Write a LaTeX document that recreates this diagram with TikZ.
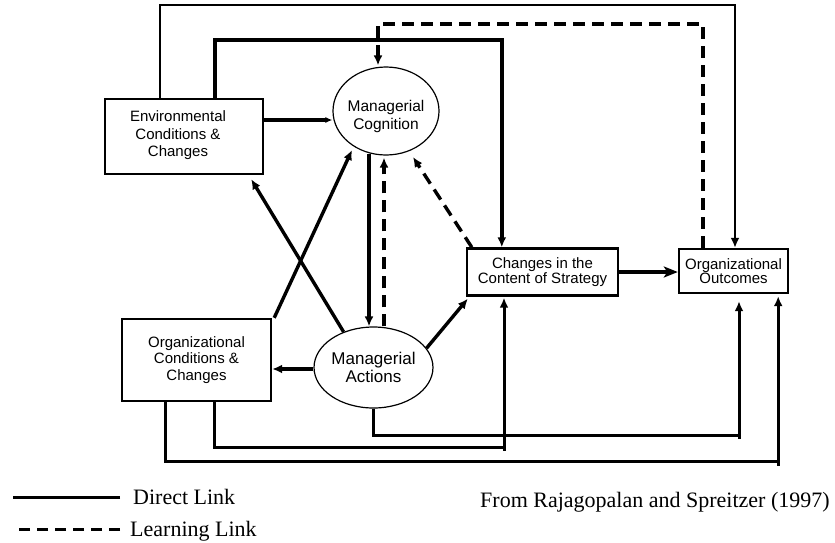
\documentclass[tikz,border=0pt]{standalone}
\usepackage{fontspec}
\setmainfont{Liberation Sans}
\newfontfamily\legfont{Liberation Serif}
\usetikzlibrary{arrows.meta,shapes.geometric}
\begin{document}
\begin{tikzpicture}[x=1pt,y=-1pt,
  box/.style={draw,line width=2.4pt,inner sep=0pt,align=center},
  oval/.style={draw,ellipse,line width=1.2pt,inner sep=0pt,align=center},
  txt/.style={inner sep=0pt,align=center,font=\fontsize{15}{17.5}\selectfont},
  link/.style={line width=3.4pt},
  thinlink/.style={line width=2.6pt},
  botlink/.style={line width=3pt},
  learn/.style={line width=3.4pt,dash pattern=on 12pt off 7pt},
  tip/.style={-{Latex[length=10pt,width=9pt]}},
  smalltip/.style={-{Latex[length=7pt,width=6pt]}},
  bigtip/.style={-{Stealth[length=14pt,width=11pt,inset=3.5pt]}},
  legtext/.style={inner sep=0pt,font=\legfont\fontsize{22}{24}\selectfont},
]
\useasboundingbox (0,0) rectangle (835,542);

% nodes
\node[box,minimum width=158pt,minimum height=75pt] (env) at (184,136.5) {};
\node[txt] (envtext) at (178,135.5) {Environmental\\Conditions \&\\Changes};

\node[oval,minimum width=106pt,minimum height=88pt] (cog) at (386,111) {};
\node[txt,font=\fontsize{15.5}{18}\selectfont] (cogtext) at (386,116) {Managerial\\Cognition};

\node[box,minimum width=151pt,minimum height=47pt,font=\fontsize{15}{14.5}\selectfont] (chg) at (542.5,272) {Changes in the\\Content of Strategy};

\node[box,minimum width=109pt,minimum height=44pt,font=\fontsize{15}{14.5}\selectfont] (out) at (733.5,271) {Organizational\\Outcomes};

\node[box,minimum width=149pt,minimum height=82pt,font=\fontsize{15}{16.5}\selectfont] (orgc) at (196.5,360) {Organizational\\Conditions \&\\Changes};

\node[oval,minimum width=95pt,minimum height=81pt,font=\fontsize{17}{18.5}\selectfont] (act) at (373.5,367.5) {Managerial\\Actions};

% top connectors
\draw[thinlink,tip] ([xshift=56pt]env.north west) -- ++(0,-93) -| ([xshift=1.5pt]out.north);
\draw[link,tip] ([xshift=111pt]env.north west) -- ++(0,-58) -| ([xshift=36pt]chg.north west);
\draw[learn,tip] ([xshift=25pt]out.north west) -- ++(0,-224) -| ([xshift=-8pt,yshift=1pt]cog.north);

% middle connectors
\draw[link,smalltip] ([yshift=16.5pt]env.east) -- ([yshift=16.5pt]env.east -| cog.west);
\draw[link,tip] ([xshift=-17pt,yshift=2pt]cog.south) -- ([xshift=-4.5pt]act.north);
\draw[learn,tip] ([xshift=10.5pt]act.north) -- ([xshift=-2pt,yshift=-2pt]cog.south);
\draw[learn,tip] ([xshift=6pt]chg.north west) -- ([xshift=27pt,yshift=-46pt]cog.center);
\draw[link,tip] (act.130) -- ([xshift=-13pt,yshift=-4pt]env.south east);
\draw[link,tip] ([xshift=2pt]orgc.north east) -- ([xshift=-34pt,yshift=-39pt]cog.center);
\draw[link,tip] ([yshift=-1.5pt]act.west) -- ([yshift=-1.5pt]act.west -| orgc.east);
\draw[link,tip] (act.20) -- ([xshift=2pt,yshift=-2pt]chg.south west);
\draw[link,bigtip] (chg.east) -- (chg.east -| out.west);

% bottom connectors
\draw[botlink,tip] (act.south) -- ++(0,26.5) coordinate (k1) -| ([xshift=5.5pt,yshift=-7pt]out.south);
\draw[botlink,tip] ([xshift=94pt]orgc.south west) -- ++(0,45) coordinate (k2) -| ([xshift=-38.5pt,yshift=-1pt]chg.south);
\draw[botlink,tip] ([xshift=45pt]orgc.south west) -- ++(0,59) coordinate (k3) -| ([xshift=-11pt,yshift=-2pt]out.south east);
\draw[botlink] ([xshift=5.5pt]out.south |- k1) -- ++(0,4);
\draw[botlink] ([xshift=-38.5pt]chg.south |- k2) -- ++(0,4);
\draw[botlink] ([xshift=-11pt]out.south east |- k3) -- ++(0,5);

% legend
\node[legtext,anchor=base west] (dl) at (133,504) {Direct Link};
\node[legtext,anchor=base west] (ll) at (130,536) {Learning Link};
\draw[thinlink] ([xshift=-13pt,yshift=-1pt]dl.west) -- ++(-107,0);
\draw[learn,dash pattern=on 11pt off 7pt] ([xshift=-10pt,yshift=1pt]ll.west) -- ++(-107,0);
\node[legtext,anchor=base west] (src) at (480,507) {From Rajagopalan and Spreitzer (1997)};
\end{tikzpicture}
\end{document}
